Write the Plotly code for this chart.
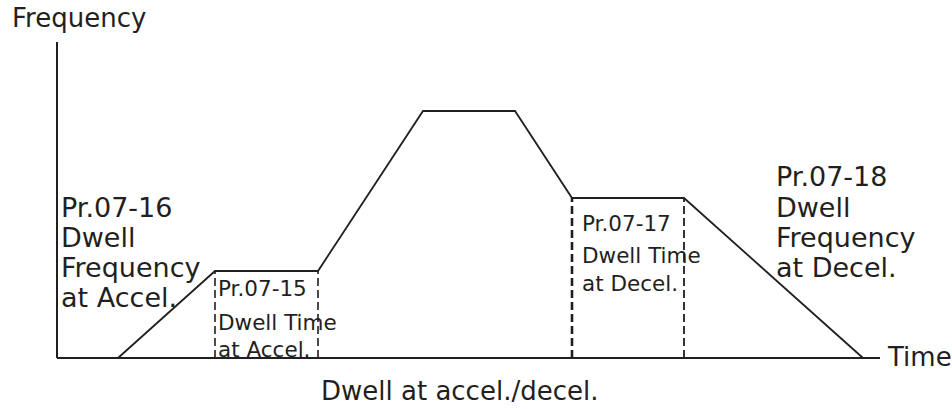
import plotly.graph_objects as go

# Frequency profile (time units, frequency units)
time_pts = [61, 158, 261, 366, 458, 515, 627, 806]
freq_pts = [0, 87, 87, 247, 247, 160, 160, 0]

# Dwell time markers (dashed verticals): time, height
dwell_times = [158, 261, 515, 627]
dwell_heights = [87, 87, 160, 160]
dwell_widths = [1.6, 1.6, 2.6, 1.8]

# Axis extents
t_axis_end = 823
f_axis_end = 316

INK = "#231f20"
FONT = "DejaVu Sans"

# Text labels: lines and vertical centres
left_lines = ["Pr.07-16", "Dwell", "Frequency", "at Accel."]
left_ys = [151, 121, 91, 61]
acc_box_lines = ["Pr.07-15", "Dwell Time", "at Accel."]
acc_box_ys = [70, 36, 9]
dec_box_lines = ["Pr.07-17", "Dwell Time", "at Decel."]
dec_box_ys = [135, 103, 75]
right_lines = ["Pr.07-18", "Dwell", "Frequency", "at Decel."]
right_ys = [182, 151, 121, 91]

fig = go.Figure()

# axes
fig.add_trace(go.Scatter(x=[0, t_axis_end], y=[0, 0], mode="lines",
                         line=dict(color=INK, width=2), hoverinfo="skip"))
fig.add_trace(go.Scatter(x=[0, 0], y=[0, f_axis_end], mode="lines",
                         line=dict(color=INK, width=2), hoverinfo="skip"))

# dashed dwell markers
for t, h, w in zip(dwell_times, dwell_heights, dwell_widths):
    fig.add_trace(go.Scatter(x=[t, t], y=[0, h], mode="lines",
                             line=dict(color=INK, width=w, dash="8px,4px"),
                             hoverinfo="skip"))

# frequency profile
fig.add_trace(go.Scatter(x=time_pts, y=freq_pts, mode="lines",
                         line=dict(color=INK, width=1.8), hoverinfo="skip"))


def add_lines(lines, x, ys, size):
    for txt, y in zip(lines, ys):
        fig.add_annotation(x=x, y=y, xref="x", yref="y", text=txt,
                           showarrow=False, xanchor="left", yanchor="middle",
                           font=dict(family=FONT, size=size, color=INK))


add_lines(left_lines, 2, left_ys, 27)
add_lines(acc_box_lines, 159, acc_box_ys, 21.5)
add_lines(dec_box_lines, 523, dec_box_ys, 21.5)
add_lines(right_lines, 717, right_ys, 27)

fig.add_annotation(x=-47, y=340, xref="x", yref="y", text="Frequency",
                   showarrow=False, xanchor="left", yanchor="middle",
                   font=dict(family=FONT, size=26, color=INK))
fig.add_annotation(x=828, y=1, xref="x", yref="y", text="Time",
                   showarrow=False, xanchor="left", yanchor="middle",
                   font=dict(family=FONT, size=26, color=INK))
fig.add_annotation(x=262, y=-33, xref="x", yref="y", text="Dwell at accel./decel.",
                   showarrow=False, xanchor="left", yanchor="middle",
                   font=dict(family=FONT, size=26, color=INK))

fig.update_layout(
    width=952, height=409,
    margin=dict(l=0, r=0, t=0, b=0),
    paper_bgcolor="white", plot_bgcolor="white",
    showlegend=False,
    xaxis=dict(range=[-57, 895], visible=False, fixedrange=True),
    yaxis=dict(range=[-51, 358], visible=False, fixedrange=True),
)

fig.write_html(
    "out.html",
    config={"displayModeBar": False, "staticPlot": True},
    post_script="document.body.style.margin='0';document.body.style.overflow='hidden';",
)
